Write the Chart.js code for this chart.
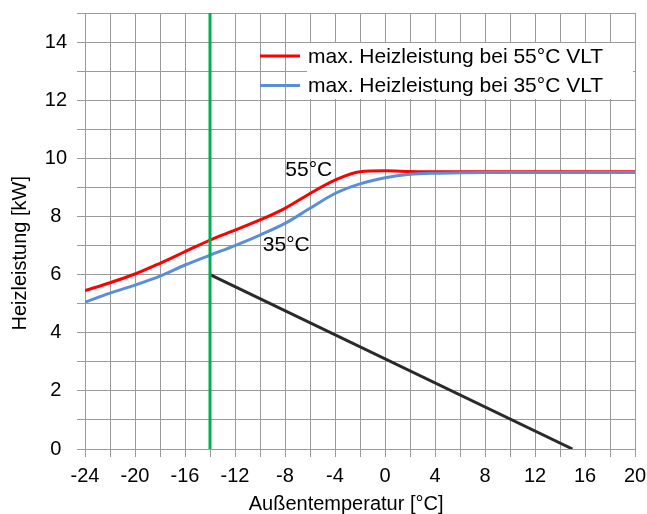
<!DOCTYPE html>
<html>
<head>
<meta charset="utf-8">
<script src="https://cdn.jsdelivr.net/npm/chart.js@4.4.1/dist/chart.umd.min.js"></script>
<style>
html,body{margin:0;padding:0;background:#fff;}
#wrap{width:647px;height:514px;position:relative;}
</style>
</head>
<body>
<div id="wrap"><canvas id="c" width="647" height="514"></canvas></div>
<script>
// ---- data ----
const temps = [-24,-22,-20,-18,-16,-14,-12,-10,-8,-6,-4,-2,0,2,4,6,8,10,12,14,16,18,20];
const heat55 = [5.45,5.72,6.02,6.39,6.79,7.19,7.53,7.88,8.28,8.79,9.25,9.54,9.57,9.55,9.54,9.54,9.54,9.54,9.54,9.54,9.54,9.54,9.54];
const heat35 = [5.05,5.36,5.64,5.95,6.33,6.67,7.00,7.36,7.76,8.28,8.79,9.12,9.33,9.45,9.49,9.50,9.51,9.51,9.51,9.51,9.51,9.51,9.51];
const demandTemps = [-14, 15];
const demandValues = [6, 0];
const bivalentTemps = [-14, -14];
const bivalentValues = [0, 15];
const seriesLabels = ['max. Heizleistung bei 55°C VLT', 'max. Heizleistung bei 35°C VLT'];
const curveLabels = ['55°C', '35°C'];
const curveLabelPos = [[-6.1, 9.6], [-7.9, 7.0]];
const xTitle = 'Außentemperatur [°C]';
const yTitle = 'Heizleistung [kW]';

const FONT = "'Liberation Sans', Arial, sans-serif";
const RED = '#ff0000', BLUE = '#5a8fd8', GREEN = '#00b050', DARK = '#2a2a2a';
const GRID = '#9a9a9a';

const pts = (xs, ys) => xs.map((x, i) => ({x: x, y: ys[i]}));

const legendPlugin = {
  id: 'customLegend',
  afterDatasetsDraw(chart) {
    const ctx = chart.ctx;
    const colors = [RED, BLUE];
    ctx.save();
    ctx.fillStyle = '#fff';
    ctx.fillRect(307, 43, 326, 56);
    ctx.font = '21px ' + FONT;
    ctx.textBaseline = 'middle';
    ctx.textAlign = 'left';
    seriesLabels.forEach((lab, i) => {
      const y = 56 + i * 29.5;
      ctx.strokeStyle = colors[i];
      ctx.lineWidth = 3;
      ctx.beginPath();
      ctx.moveTo(260, y);
      ctx.lineTo(300, y);
      ctx.stroke();
      ctx.fillStyle = '#000';
      ctx.fillText(lab, 308, y + 1);
    });
    // curve labels
    const xs = chart.scales.x, ys = chart.scales.y;
    ctx.textAlign = 'center';
    curveLabels.forEach((lab, i) => {
      ctx.fillText(lab, xs.getPixelForValue(curveLabelPos[i][0]), ys.getPixelForValue(curveLabelPos[i][1]));
    });
    ctx.restore();
  }
};

new Chart(document.getElementById('c'), {
  type: 'line',
  data: {
    datasets: [
      {label: 'bivalent', data: pts(bivalentTemps, bivalentValues), borderColor: GREEN, borderWidth: 3, pointRadius: 0, tension: 0},
      {label: 'demand', data: pts(demandTemps, demandValues), borderColor: DARK, borderWidth: 3, pointRadius: 0, tension: 0},
      {label: seriesLabels[1], data: pts(temps, heat35), borderColor: BLUE, borderWidth: 3, pointRadius: 0, cubicInterpolationMode: 'monotone'},
      {label: seriesLabels[0], data: pts(temps, heat55), borderColor: RED, borderWidth: 3, pointRadius: 0, cubicInterpolationMode: 'monotone'}
    ]
  },
  options: {
    responsive: false,
    animation: false,
    layout: {padding: {top: 13, right: 12, left: 0, bottom: 0}},
    plugins: {legend: {display: false}, tooltip: {enabled: false}},
    scales: {
      x: {
        type: 'linear', min: -24, max: 20,
        ticks: {
          stepSize: 2, autoSkip: false, maxRotation: 0, padding: 7,
          color: '#000', font: {family: FONT, size: 20},
          callback: v => (v % 4 === 0 ? String(v) : '')
        },
        grid: {color: GRID, lineWidth: 1, tickLength: 8, drawTicks: true},
        border: {color: GRID},
        title: {display: true, text: xTitle + '     ', color: '#000', font: {family: FONT, size: 20}, padding: {top: 0, bottom: -2}},
        afterFit: s => { s.height = 65; s.paddingLeft = 0; s.paddingRight = 0; }
      },
      y: {
        type: 'linear', min: 0, max: 15,
        ticks: {
          stepSize: 1, autoSkip: false, padding: 10, crossAlign: 'center',
          color: '#000', font: {family: FONT, size: 20},
          callback: v => (v % 2 === 0 ? String(v) : '')
        },
        grid: {color: GRID, lineWidth: 1, tickLength: 8, drawTicks: true},
        border: {color: GRID},
        title: {display: true, text: yTitle + '        ', color: '#000', font: {family: FONT, size: 20}, padding: {top: 8, bottom: 0}},
        afterFit: s => { s.width = 85; s.paddingTop = 0; s.paddingBottom = 0; }
      }
    }
  },
  plugins: [legendPlugin]
});
</script>
</body>
</html>
